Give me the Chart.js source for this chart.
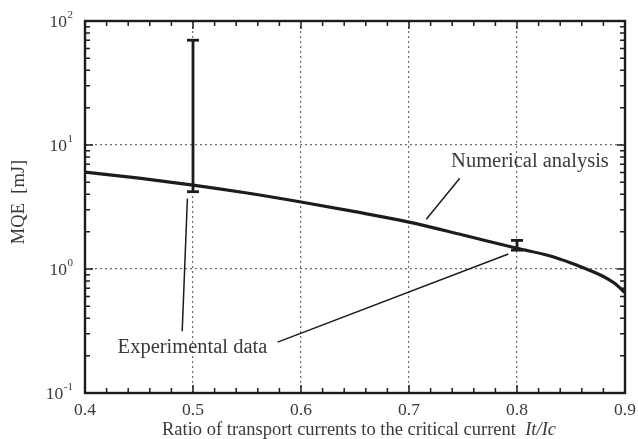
<!DOCTYPE html>
<html lang="en">
<head>
  <meta charset="UTF-8" />
  <title>MQE vs It/Ic</title>
  <style>
    html, body { margin: 0; padding: 0; background: #fff; }
    #wrap { width: 638px; height: 439px; }
  </style>
</head>
<body>
  <div id="wrap"><canvas id="mqeChart" width="638" height="439"></canvas></div>

  <script src="https://cdn.jsdelivr.net/npm/chart.js"></script>
  <script>
    // numerical analysis curve
    const ratio = [0.4, 0.45, 0.5, 0.55, 0.6, 0.65, 0.7, 0.75, 0.8, 0.83, 0.85, 0.86, 0.88, 0.89, 0.9];
    const mqe = [6.05, 5.4, 4.75, 4.1, 3.47, 2.9, 2.39, 1.88, 1.47, 1.28, 1.12, 1.035, 0.87, 0.77, 0.645];

    // experimental data (error bars)
    const expRatio = [0.5, 0.8];
    const expUpper = [70, 1.7];
    const expLower = [4.2, 1.42];

    // axis ticks
    const xTicks = [0.4, 0.5, 0.6, 0.7, 0.8, 0.9];
    const yDecades = [0.1, 1, 10, 100];
    const yTickLabels = [['10', '-1'], ['10', '0'], ['10', '1'], ['10', '2']];

    // annotations (data coordinates)
    const numLabel = { text: 'Numerical analysis', x: 0.812, y: 7.3 };
    const numLeader = [[0.747, 5.4], [0.716, 2.52]];
    const expLabel = { text: 'Experimental data', x: 0.4995, y: 0.234 };
    const expLeaders = [
      [[0.4948, 3.7], [0.490, 0.315]],
      [[0.5784, 0.257], [0.792, 1.32]]
    ];

    const serif = '"Liberation Serif", "Times New Roman", serif';
    const ink = '#1c1c1c';
    const textInk = '#3a3a3a';

    const errorSets = expRatio.map((x, i) => ({
      data: [{ x: x, y: expUpper[i] }, { x: x, y: expLower[i] }],
      borderColor: ink,
      borderWidth: 2.8,
      pointStyle: 'line',
      pointRadius: 6,
      pointBorderWidth: 2.8,
      pointBorderColor: ink,
      showLine: true
    }));

    const frame = {
      id: 'frame',
      afterDraw(chart) {
        const { ctx, chartArea: a, scales: { x, y } } = chart;
        ctx.save();

        // leader lines
        ctx.strokeStyle = ink;
        ctx.lineWidth = 1.5;
        [numLeader].concat(expLeaders).forEach(seg => {
          ctx.beginPath();
          ctx.moveTo(x.getPixelForValue(seg[0][0]), y.getPixelForValue(seg[0][1]));
          ctx.lineTo(x.getPixelForValue(seg[1][0]), y.getPixelForValue(seg[1][1]));
          ctx.stroke();
        });

        // annotation labels
        ctx.fillStyle = textInk;
        ctx.font = '20.5px ' + serif;
        ctx.textAlign = 'center';
        ctx.textBaseline = 'middle';
        [numLabel, expLabel].forEach(l => {
          ctx.fillText(l.text, x.getPixelForValue(l.x), y.getPixelForValue(l.y));
        });

        // inward ticks, all four sides
        ctx.strokeStyle = ink;
        ctx.lineWidth = 1.5;
        ctx.beginPath();
        for (let k = 0; k <= 25; k++) {
          const v = 0.4 + k * 0.02;
          const px = x.getPixelForValue(v);
          const len = k % 5 === 0 ? 8 : 5;
          ctx.moveTo(px, a.bottom); ctx.lineTo(px, a.bottom - len);
          ctx.moveTo(px, a.top); ctx.lineTo(px, a.top + len);
        }
        [0.1, 1, 10].forEach(d => {
          for (let m = 1; m <= 10; m++) {
            const py = y.getPixelForValue(d * m);
            const len = m === 1 || m === 10 ? 8 : 5;
            ctx.moveTo(a.left, py); ctx.lineTo(a.left + len, py);
            ctx.moveTo(a.right, py); ctx.lineTo(a.right - len, py);
          }
        });
        ctx.stroke();

        // frame
        ctx.lineWidth = 2.4;
        ctx.strokeRect(a.left, a.top, a.right - a.left, a.bottom - a.top);

        // x tick labels
        ctx.fillStyle = textInk;
        ctx.font = '17.5px ' + serif;
        ctx.textAlign = 'center';
        ctx.textBaseline = 'top';
        xTicks.forEach(v => ctx.fillText(v.toFixed(1), x.getPixelForValue(v), a.bottom + 9));

        // y tick labels with superscripts
        yDecades.forEach((d, i) => {
          const py = y.getPixelForValue(d);
          const [base, sup] = yTickLabels[i];
          ctx.font = '11px ' + serif;
          const sw = ctx.measureText(sup).width;
          ctx.textAlign = 'left';
          ctx.textBaseline = 'alphabetic';
          const sx = a.left - 12 - sw;
          ctx.fillText(sup, sx, py - 3);
          ctx.font = '17.5px ' + serif;
          ctx.textAlign = 'right';
          ctx.fillText(base, sx - 0.5, py + 6);
        });

        // x axis title
        ctx.textBaseline = 'middle';
        ctx.textAlign = 'left';
        const t1 = 'Ratio of transport currents to the critical current  ';
        ctx.font = 'italic 18.5px ' + serif;
        const t2w = ctx.measureText('It/Ic').width;
        ctx.font = '18.5px ' + serif;
        const t1w = ctx.measureText(t1).width;
        const sx0 = 359 - (t1w + t2w) / 2;
        ctx.fillText(t1, sx0, 430);
        ctx.font = 'italic 18.5px ' + serif;
        ctx.fillText('It/Ic', sx0 + t1w, 430);

        // y axis title
        ctx.save();
        ctx.translate(19, 202);
        ctx.rotate(-Math.PI / 2);
        ctx.font = '18.5px ' + serif;
        ctx.textAlign = 'center';
        ctx.fillText('MQE  [mJ]', 0, 0);
        ctx.restore();

        ctx.restore();
      }
    };

    new Chart(document.getElementById('mqeChart').getContext('2d'), {
      type: 'scatter',
      data: {
        datasets: [{
          data: ratio.map((r, i) => ({ x: r, y: mqe[i] })),
          borderColor: ink,
          borderWidth: 3.2,
          pointRadius: 0,
          showLine: true,
          cubicInterpolationMode: 'monotone'
        }].concat(errorSets)
      },
      options: {
        responsive: false,
        animation: false,
        layout: { padding: { left: 85, right: 13, top: 21, bottom: 46 } },
        plugins: { legend: { display: false }, tooltip: { enabled: false } },
        scales: {
          x: {
            type: 'linear',
            min: 0.4,
            max: 0.9,
            ticks: { display: false, stepSize: 0.1 },
            grid: { color: '#6e6e6e', lineWidth: 1.2, drawTicks: false, tickLength: 0 },
            border: { display: false, dash: [2, 3] }
          },
          y: {
            type: 'logarithmic',
            min: 0.1,
            max: 100,
            afterBuildTicks: s => { s.ticks = yDecades.map(v => ({ value: v })); },
            ticks: { display: false },
            grid: { color: '#6e6e6e', lineWidth: 1.2, drawTicks: false, tickLength: 0 },
            border: { display: false, dash: [2, 3] }
          }
        }
      },
      plugins: [frame]
    });
  </script>
</body>
</html>
